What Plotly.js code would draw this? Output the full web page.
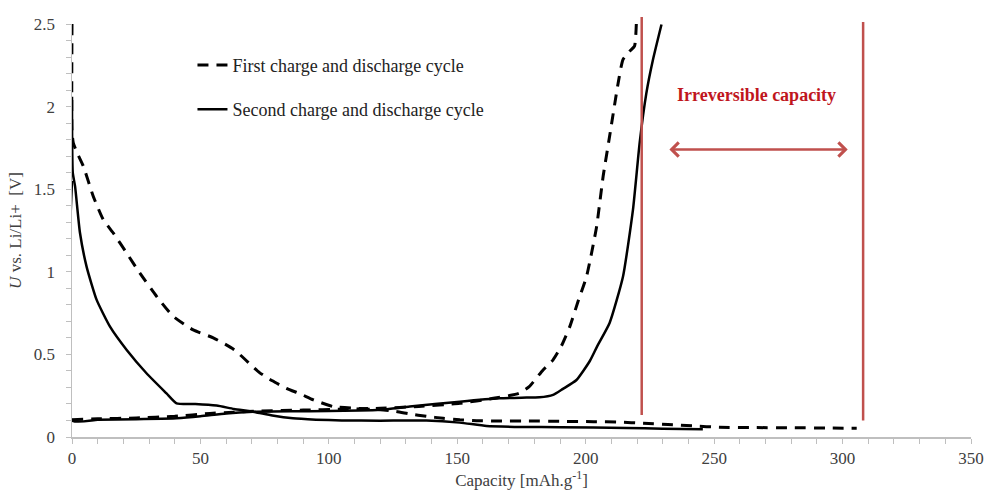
<!DOCTYPE html>
<html>
<head>
<meta charset="utf-8">
<script src="https://cdn.plot.ly/plotly-3.0.1.min.js"></script>
<style>html,body{margin:0;padding:0;background:#fff;}#chart{width:993px;height:495px;}</style>
</head>
<body>
<div id="chart"></div>
<script>
// First cycle – discharge (dashed)
const cycle1DischargeCap = [0, 0, 0.5, 2, 4.4, 8.3, 12.2, 16.1, 21.3, 26.5, 33, 39.4, 47.2, 55, 63, 73, 78, 83.5, 89, 94, 101.6, 112, 120, 126, 131.5, 138, 144.5, 151, 157.5, 165, 177, 190, 203, 213, 222.5, 232, 242, 252, 265, 280, 295, 305.5];
const cycle1DischargeV   = [2.5, 1.85, 1.78, 1.72, 1.64, 1.456, 1.315, 1.234, 1.113, 0.99, 0.85, 0.73, 0.648, 0.6, 0.53, 0.39, 0.34, 0.295, 0.26, 0.225, 0.184, 0.172, 0.165, 0.155, 0.14, 0.125, 0.113, 0.104, 0.099, 0.097, 0.097, 0.095, 0.093, 0.09, 0.083, 0.075, 0.067, 0.059, 0.057, 0.056, 0.054, 0.053];
// First cycle – charge (dashed)
const cycle1ChargeCap = [0, 10, 25, 40, 53.7, 63, 73, 90, 105, 120, 135, 151, 164, 174, 178, 183.4, 187.3, 190.5, 193.8, 197, 200.3, 204.2, 206.8, 209.3, 212.6, 214.5, 217.1, 219, 219.7];
const cycle1ChargeV   = [0.105, 0.11, 0.115, 0.125, 0.143, 0.15, 0.157, 0.163, 0.168, 0.174, 0.185, 0.204, 0.234, 0.264, 0.305, 0.406, 0.467, 0.55, 0.668, 0.82, 0.97, 1.27, 1.58, 1.82, 2.14, 2.285, 2.335, 2.366, 2.5];
// Second cycle – discharge (solid)
const cycle2DischargeCap = [0, 0.3, 1.2, 3.1, 5.7, 9.6, 14.8, 21.3, 29, 36.8, 40.7, 48, 56.3, 63, 70.5, 78, 86, 95, 105, 120, 138, 151, 161.4, 175, 190, 216, 230, 245.6];
const cycle2DischargeV   = [2.06, 1.6, 1.517, 1.236, 1.03, 0.83, 0.668, 0.527, 0.386, 0.264, 0.204, 0.2, 0.19, 0.17, 0.153, 0.13, 0.113, 0.105, 0.1, 0.099, 0.1, 0.087, 0.067, 0.061, 0.059, 0.055, 0.05, 0.047];
// Second cycle – charge (solid)
const cycle2ChargeCap = [0, 0, 10, 25, 40.7, 50, 60, 70.5, 85, 100, 112, 120, 131.5, 151, 166.5, 175, 182, 187.3, 191, 196.4, 201.6, 204.5, 209.3, 214.5, 218.4, 221, 223.6, 226.2, 229.5];
const cycle2ChargeV   = [1.55, 0.1, 0.104, 0.108, 0.113, 0.125, 0.143, 0.153, 0.156, 0.157, 0.16, 0.165, 0.184, 0.214, 0.234, 0.238, 0.24, 0.255, 0.29, 0.345, 0.46, 0.55, 0.69, 0.97, 1.376, 1.78, 2.08, 2.285, 2.497];

const seriesNames = ["First charge and discharge cycle", "Second charge and discharge cycle"];
const irreversibleBounds = [221.8, 308];      // capacity of the two red markers
const irreversibleBottoms = [0.133, 0.1];     // V
const irreversibleTops = [1.017, 1.005];      // fraction of plot height
const arrowCap = [232, 302];
const arrowV = 1.74;
const annotationText = "Irreversible capacity";
const xTicks = [0, 50, 100, 150, 200, 250, 300, 350];
const yTicks = [0, 0.5, 1, 1.5, 2, 2.5];

const serif = "'Liberation Serif', 'Times New Roman', serif";
const red = "#c0504d";
const yMax = 2.5;

const dashStyle = {color: "#000", width: 3, dash: "11px,8px", shape: "spline", smoothing: 0.5};
const solidStyle = {color: "#000", width: 2.5, shape: "spline", smoothing: 0.5};

const traces = [
  {x: cycle1DischargeCap, y: cycle1DischargeV, mode: "lines", line: dashStyle, name: seriesNames[0], legendgroup: "c1", showlegend: true, hoverinfo: "skip"},
  {x: cycle1ChargeCap, y: cycle1ChargeV, mode: "lines", line: dashStyle, name: seriesNames[0], legendgroup: "c1", showlegend: false, hoverinfo: "skip"},
  {x: cycle2DischargeCap, y: cycle2DischargeV, mode: "lines", line: solidStyle, name: seriesNames[1], legendgroup: "c2", showlegend: true, hoverinfo: "skip"},
  {x: cycle2ChargeCap, y: cycle2ChargeV, mode: "lines", line: solidStyle, name: seriesNames[1], legendgroup: "c2", showlegend: false, hoverinfo: "skip"}
];

const shapes = irreversibleBounds.map((c, i) => ({
  type: "line", xref: "x", yref: "paper", x0: c, x1: c,
  y0: irreversibleBottoms[i] / yMax, y1: irreversibleTops[i],
  line: {color: red, width: 2.5}, layer: "above"
}));

const layout = {
  width: 993, height: 495,
  margin: {l: 72, r: 22, t: 24, b: 58},
  paper_bgcolor: "#fff", plot_bgcolor: "#fff",
  font: {family: serif, size: 17, color: "#404040"},
  showlegend: true,
  legend: {
    x: 0.134, xanchor: "left", y: 0.945, yanchor: "top",
    bgcolor: "rgba(0,0,0,0)", borderwidth: 0,
    font: {family: serif, size: 18, color: "#222"},
    tracegroupgap: 18, itemwidth: 30
  },
  xaxis: {
    range: [0, 350], tickvals: xTicks, ticks: "outside", ticklen: 5, tickcolor: "#bfbfbf",
    showline: true, linecolor: "#bfbfbf", linewidth: 1.5, showgrid: false, zeroline: false,
    minor: {dtick: 10, ticks: "outside", ticklen: 5, tickcolor: "#bfbfbf", showgrid: false},
    tickfont: {family: serif, size: 17, color: "#404040"},
    title: {text: "Capacity [mAh.g<sup>-1</sup>]", font: {family: serif, size: 17, color: "#404040"}, standoff: 4},
    fixedrange: true
  },
  yaxis: {
    range: [0, yMax], tickvals: yTicks, ticks: "outside", ticklen: 5, tickcolor: "#bfbfbf",
    showline: true, linecolor: "#bfbfbf", linewidth: 1.5, showgrid: false, zeroline: false,
    minor: {dtick: 0.1, ticks: "outside", ticklen: 5, tickcolor: "#bfbfbf", showgrid: false},
    tickfont: {family: serif, size: 17, color: "#404040"},
    ticklabelstandoff: 7,
    title: {text: "<i>U</i> vs. Li/Li+ \u00a0[V]", font: {family: serif, size: 17, color: "#404040"}, standoff: 8},
    fixedrange: true
  },
  shapes: shapes,
  annotations: [
    {x: (arrowCap[0] + arrowCap[1]) / 2 - 0.5, y: 2.07, xref: "x", yref: "y", text: "<b>" + annotationText + "</b>", showarrow: false,
     font: {family: serif, size: 18, color: "#c0161d"}},
    {x: arrowCap[1], y: arrowV, ax: arrowCap[0], ay: arrowV, xref: "x", yref: "y", axref: "x", ayref: "y",
     text: "", showarrow: true, arrowside: "end+start", arrowhead: 4, startarrowhead: 4, arrowsize: 1.1, startarrowsize: 1.1,
     arrowwidth: 2.5, arrowcolor: red}
  ]
};

Plotly.newPlot("chart", traces, layout, {displayModeBar: false, staticPlot: true});
</script>
</body>
</html>
